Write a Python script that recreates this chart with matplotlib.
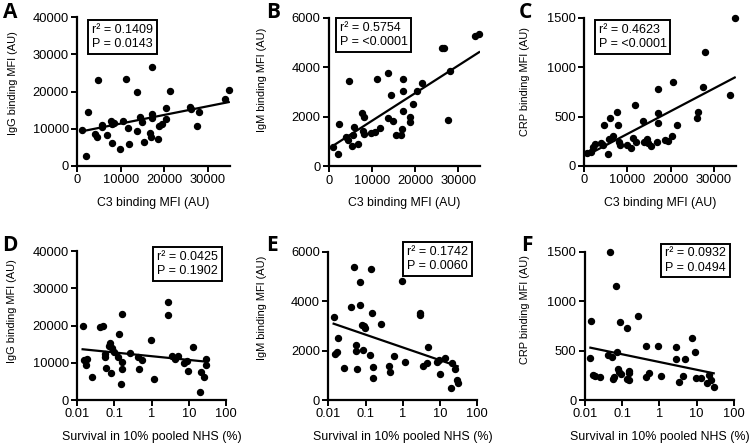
import numpy as np
import matplotlib
matplotlib.use("Agg")
import matplotlib.pyplot as plt

plt.rcParams['font.family'] = ['Liberation Sans', 'DejaVu Sans']

# ---------------- data ----------------
# Panel A: C3 vs IgG
a_x = [1000, 2070, 2520, 4060, 4590, 4670, 5590, 5740, 6730, 7730, 8030, 8030, 8420, 9870,
       10560, 11250, 11700, 11860, 13620, 13700, 14380, 14770, 15380, 16600, 16910, 17060,
       17220, 17220, 18590, 18740, 19510, 20280, 20350, 21350, 26010, 26090, 27470, 27930,
       33900, 34800]
a_y = [9690, 2600, 14530, 8610, 7890, 23230, 11120, 10490, 8340, 12020, 6280, 11300, 11660, 4480,
       12020, 23410, 10310, 5920, 9420, 19820, 13090, 11840, 6460, 8880, 7710, 13990,
       26730, 12910, 7260, 10850, 11300, 12740, 15700, 20180, 15960, 15250, 10760, 14620,
       18030, 20360]

# Panel B: C3 vs IgM
b_x = [1000, 2010, 2320, 3940, 4480, 4560, 5410, 5480, 5870, 6640, 7720, 7800, 8030, 8190,
       9730, 10660, 11200, 11810, 13750, 13750, 14360, 14830, 15440, 16680, 16990, 17140,
       17220, 17220, 18690, 18690, 19540, 20390, 21470, 26100, 26600, 27570, 28110, 33900,
       34800]
b_y = [770, 500, 1700, 1170, 1080, 3440, 840, 1280, 1600, 890, 2140, 1420, 1310, 1990,
       1330, 1370, 3540, 1560, 1950, 3770, 2900, 1850, 1270, 1270, 1500, 3030,
       3540, 2220, 2010, 1780, 2510, 3060, 3370, 4780, 4780, 1870, 3840, 5280,
       5360]

# Panel C: C3 vs CRP
c_x = [770, 1540, 2150, 2460, 3920, 4460, 4620, 5540, 5690, 6000, 6620, 7540, 7770, 8000,
       8310, 9850, 10770, 11380, 11690, 11920, 13690, 13850, 14460, 14770, 15460, 16770,
       17080, 17150, 17080, 18620, 19380, 20310, 20460, 21380, 26080, 26230, 27540, 28000,
       33800, 34800]
c_y = [132, 142, 189, 223, 233, 216, 419, 125, 274, 486, 301, 547, 412, 240,
       209, 213, 182, 284, 622, 240, 456, 247, 277, 230, 206, 243,
       784, 534, 432, 267, 257, 307, 851, 412, 486, 544, 801, 1152,
       723, 1500]

# Panel D: survival vs IgG
d_x = [0.0139, 0.0148, 0.0171, 0.0182, 0.0253, 0.0416, 0.048, 0.0544, 0.0555, 0.0578, 0.0697,
       0.0772, 0.0822, 0.0857, 0.0948, 0.1267, 0.1347, 0.156, 0.156, 0.156, 0.152, 0.267,
       0.437, 0.465, 0.56, 0.94, 1.16, 2.79, 2.79, 3.43, 4.2, 4.97, 7.5, 8.86, 9.66, 12.9,
       19.6, 21.3, 25.0, 28.4, 28.4]
d_y = [19870, 10740, 9400, 11100, 6260, 19600, 19960, 11630, 12440, 8680, 14590,
       15390, 7160, 13870, 12800, 11540, 17720, 23000, 10120, 8250, 4210, 12530,
       11630, 8410, 10650, 16020, 5730, 26400, 22730, 11810, 10920, 11810, 10020, 10380, 7690, 14220,
       2240, 7430, 6260, 11030, 9500]

# Panel E: survival vs IgM
e_x = [0.0139, 0.0148, 0.0167, 0.0178, 0.0258, 0.0414, 0.0489, 0.0553, 0.0553, 0.0588, 0.0708,
       0.0708, 0.0801, 0.0835, 0.0906, 0.0944, 0.131, 0.137, 0.152, 0.155, 0.155, 0.264,
       0.436, 0.464, 0.567, 0.93, 1.12, 2.84, 2.89, 3.56, 4.37, 4.86, 8.2, 9.6, 9.8, 13.2,
       19.8, 20.7, 25.1, 29.3, 29.8]
e_y = [3370, 1870, 1930, 2490, 1310, 3750, 5380, 2210, 1970, 1270, 4780,
       3840, 3020, 2020, 2990, 2900, 1830, 5280, 3520, 1320, 900, 3090,
       1390, 1150, 1780, 4800, 1550, 3500, 3420, 1370, 1510, 2140, 1540, 1620, 1050, 1680,
       490, 1510, 1250, 800, 700]

# Panel F: survival vs CRP
f_x = [0.0142, 0.0151, 0.0171, 0.0185, 0.0263, 0.0413, 0.0487, 0.0551, 0.0563, 0.0598, 0.0705,
       0.0719, 0.0781, 0.083, 0.0865, 0.0919, 0.133, 0.133, 0.154, 0.157, 0.157, 0.262,
       0.44, 0.449, 0.54, 0.937, 1.13, 2.84, 2.78, 3.36, 4.2, 4.86, 7.6, 9.3, 9.4, 12.7,
       18.6, 20.9, 24.6, 28.6]
f_y = [421, 799, 256, 246, 229, 455, 1500, 438, 212, 236, 1156,
       485, 310, 286, 785, 263, 725, 216, 206, 297, 270, 853,
       546, 236, 270, 543, 243, 533, 418, 179, 239, 415, 624, 485, 219, 226,
       169, 256, 202, 131]

letters = ['A', 'B', 'C', 'D', 'E', 'F']
ylabels = ['IgG binding MFI (AU)', 'IgM binding MFI (AU)', 'CRP binding MFI (AU)',
           'IgG binding MFI (AU)', 'IgM binding MFI (AU)', 'CRP binding MFI (AU)']
xlabel_top = 'C3 binding MFI (AU)'
xlabel_bot = 'Survival in 10% pooled NHS (%)'
r2_vals = ['0.1409', '0.5754', '0.4623', '0.0425', '0.1742', '0.0932']
p_vals = ['0.0143', '<0.0001', '<0.0001', '0.1902', '0.0060', '0.0494']
ymax = [40000, 6000, 1500, 40000, 6000, 1500]
ysteps = [10000, 2000, 500, 10000, 2000, 500]
top_xticks = [0, 10000, 20000, 30000]
bot_xticks = [0.01, 0.1, 1, 10, 100]
bot_xticklabels = ['0.01', '0.1', '1', '10', '100']

xs = [a_x, b_x, c_x, d_x, e_x, f_x]
ys = [a_y, b_y, c_y, d_y, e_y, f_y]

# ---------------- layout (pixels) ----------------
W, H = 750, 448
rects_px = [  # left, right, top, bottom
    (77.3, 229.6, 17.3, 166.0),
    (329.0, 480.0, 18.0, 166.3),
    (584.0, 735.6, 18.0, 166.0),
    (77.3, 226.0, 251.0, 400.0),
    (328.3, 477.3, 251.7, 400.0),
    (584.7, 734.0, 251.7, 400.0),
]
ylab_x = [-0.39, -0.41, -0.356, -0.405, -0.41, -0.366]
ylab_y = [0.56, 0.58, 0.57, 0.60, 0.62, 0.61]
letter_px = [(10, 12), (273, 12), (525, 12), (10, 245), (272, 245), (527, 245)]
box_pos = [(0.095, 0.955, 'left'), (0.071, 0.975, 'left'), (0.097, 0.96, 'left'),
           (0.946, 1.0, 'right'), (0.938, 1.04, 'right'), (0.946, 1.03, 'right')]

fig = plt.figure(figsize=(W / 100, H / 100), dpi=100)

for i in range(6):
    l, r, t, b = rects_px[i]
    ax = fig.add_axes([l / W, 1 - b / H, (r - l) / W, (b - t) / H])
    x = np.array(xs[i], dtype=float)
    y = np.array(ys[i], dtype=float)
    ax.plot(x, y, 'o', color='black', ms=4.3, mec='black', zorder=3, clip_on=False)
    if i < 3:
        k, c0 = np.polyfit(x, y, 1)
        xl = np.array([x.min(), x.max()])
        ax.plot(xl, k * xl + c0, color='black', lw=1.6, zorder=2)
        ax.set_xlim(0, 35000)
        ax.set_xticks(top_xticks)
        ax.set_xticklabels([str(v) for v in top_xticks])
        ax.set_xlabel(xlabel_top, fontsize=8.85)
    else:
        lx = np.log10(x)
        k, c0 = np.polyfit(lx, y, 1)
        xl = np.array([x.min(), x.max()])
        ax.plot(xl, k * np.log10(xl) + c0, color='black', lw=1.6, zorder=2)
        ax.set_xscale('log')
        ax.set_xlim(0.01, 100)
        ax.set_xticks(bot_xticks)
        ax.set_xticklabels(bot_xticklabels)
        ax.minorticks_off()
        ax.set_xlabel(xlabel_bot, fontsize=8.9)
    ax.set_ylim(0, ymax[i])
    yt = list(range(0, ymax[i] + 1, ysteps[i]))
    ax.set_yticks(yt)
    ax.set_yticklabels([str(v) for v in yt])
    ax.xaxis.set_label_coords(0.5, -0.21)
    ax.set_ylabel(ylabels[i], fontsize=7.9)
    ax.yaxis.set_label_coords(ylab_x[i], ylab_y[i])
    for s in ['top', 'right']:
        ax.spines[s].set_visible(False)
    for s in ['left', 'bottom']:
        ax.spines[s].set_linewidth(1.6)
    ax.tick_params(direction='out', length=4, width=1.4, labelsize=9.3, pad=2)
    bx, by, ha = box_pos[i]
    ax.text(bx, by, 'r² = ' + r2_vals[i] + '\nP = ' + p_vals[i], transform=ax.transAxes,
            ha=ha, va='top', fontsize=9, linespacing=1.25,
            bbox=dict(boxstyle='square,pad=0.3', fc='white', ec='black', lw=1.4), zorder=5)
    lxp, lyp = letter_px[i]
    fig.text(lxp / W, 1 - lyp / H, letters[i], fontsize=15, fontweight='bold',
             family=['Open Sans', 'DejaVu Sans'], ha='center', va='center')

fig.savefig('out.png', dpi=100)
